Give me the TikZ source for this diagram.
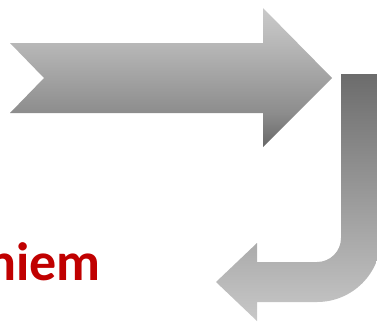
\documentclass[tikz,border=0pt]{standalone}
\usepackage{fontspec}
\setmainfont{Carlito}
\definecolor{c103}{RGB}{103,103,103}
\definecolor{c140}{RGB}{140,140,140}
\definecolor{c184}{RGB}{184,184,184}
\definecolor{c202}{RGB}{202,202,202}
\definecolor{c200}{RGB}{200,200,200}
\definecolor{c108}{RGB}{108,108,108}
\definecolor{darkred}{RGB}{192,0,0}
\pgfdeclareverticalshading{toparrowshade}{100bp}{color(0bp)=(c103); color(25bp)=(c103); color(37bp)=(c140); color(62.5bp)=(c184); color(75bp)=(c202); color(100bp)=(c202)}
\pgfdeclareverticalshading{jarrowshade}{100bp}{color(0bp)=(c200); color(25bp)=(c200); color(75bp)=(c108); color(100bp)=(c108)}
\tikzset{
  labeltext/.style={text=darkred, font=\bfseries\fontsize{54}{64}\selectfont, inner sep=0pt},
}
\begin{document}
\begin{tikzpicture}[x=1pt,y=-1pt]
\useasboundingbox (0,0) rectangle (377,322);
\clip (0,0) rectangle (377,322);
% top arrow
\shade[shading=toparrowshade] (10,43) -- (263,43) -- (263,8) -- (332,78) -- (263,147) -- (263,113) -- (10,113) -- (44,78) -- cycle;
% J arrow
\shade[shading=jarrowshade] (341,74) -- (381,74) -- (381,238) arc[start angle=0, end angle=90, radius=64] -- (257,302) -- (257,321) -- (216,282) -- (257,243) -- (257,262) -- (317,262) arc[start angle=90, end angle=0, radius=24] -- cycle;
% text
\node[labeltext, anchor=base east] (lbl) at (101,280) {niem};
\end{tikzpicture}
\end{document}
